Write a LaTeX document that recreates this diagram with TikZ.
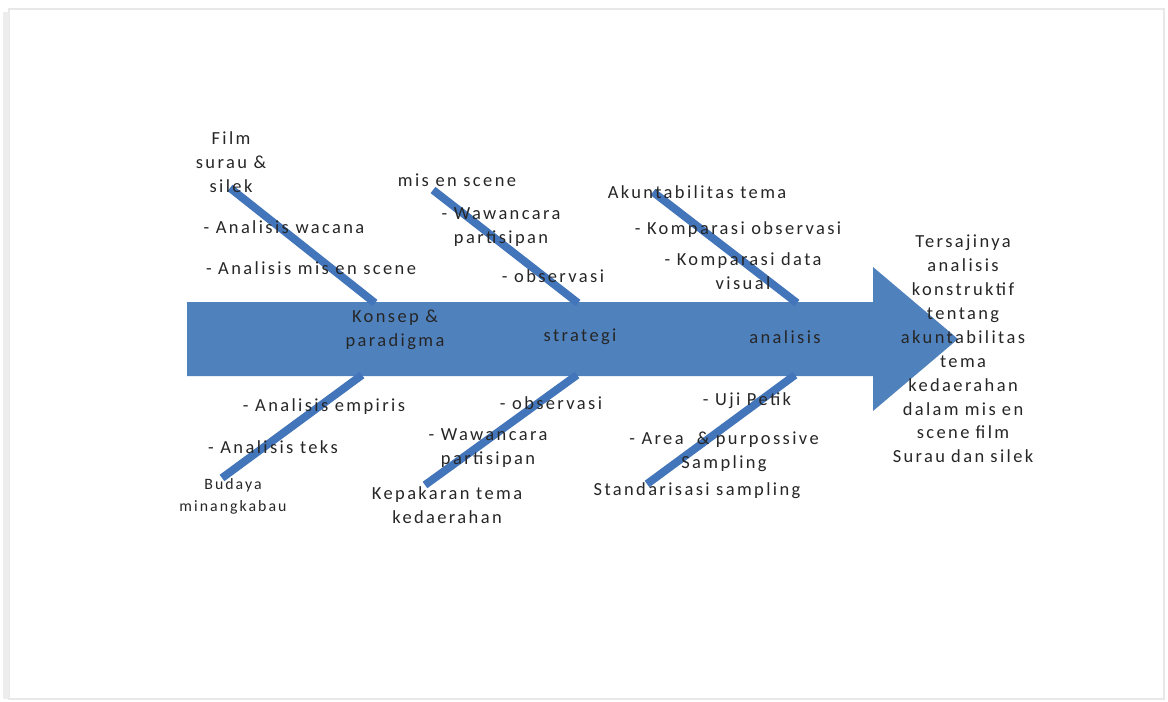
\documentclass[tikz,border=0pt]{standalone}
\usepackage{fontspec}
\newfontfamily\lsf[LetterSpace=13]{Carlito}
\definecolor{arrowblue}{HTML}{4F81BD}
\definecolor{boneblue}{HTML}{4275BA}
\begin{document}
\begin{tikzpicture}[x=0.02cm,y=-0.02cm,
  txt/.style={font={\lsf\fontsize{10.5}{13.6}\selectfont}, align=center, inner sep=0pt, text=black!85},
  smalltxt/.style={font={\lsf\fontsize{9}{12.4}\selectfont}, align=center, inner sep=0pt, text=black!85},
  bone/.style={draw=boneblue, line width=4.5pt},
  frameline/.style={draw=black!9, line width=1.5pt}]
\useasboundingbox (0,0) rectangle (1168,702);
\fill[white] (0,0) rectangle (1168,702);
% faint page frame
\draw[frameline] (9,9) rectangle (1164,699);
\draw[draw=black!7, line width=3pt] (6,12) -- (6,699);
% main arrow
\fill[arrowblue] (187,302) -- (873,302) -- (873,267) -- (958,339) -- (873,411) -- (873,376) -- (187,376) -- cycle;
% bone end coordinates
\coordinate (u1a) at (230,188); \coordinate (u1b) at (375,303);
\coordinate (u2a) at (433,190); \coordinate (u2b) at (578,303);
\coordinate (u3a) at (653,192); \coordinate (u3b) at (797,303);
\coordinate (l1a) at (362,375); \coordinate (l1b) at (222,478);
\coordinate (l2a) at (577,375); \coordinate (l2b) at (425,485);
\coordinate (l3a) at (795,375); \coordinate (l3b) at (647,484);
\draw[bone] (u1a) -- (u1b);
\draw[bone] (u2a) -- (u2b);
\draw[bone] (u3a) -- (u3b);
\draw[bone] (l1a) -- (l1b);
\draw[bone] (l2a) -- (l2b);
\draw[bone] (l3a) -- (l3b);
% upper texts
\node[txt] (film) at (231,162) {Film\\surau \&\\silek};
\node[txt] (aw) at (284,227) {- Analisis wacana};
\node[txt] (ams) at (311,268) {- Analisis mis en scene};
\node[txt] (mes) at (457,180) {mis en scene};
\node[txt] (wp1) at (501,227) {- Wawancara\\partisipan};
\node[txt] (obs1) at (553,276) {- observasi};
\node[txt] (akt) at (697,192) {Akuntabilitas tema};
\node[txt] (kob) at (738,230) {- Komparasi observasi};
\node[txt] (kdv) at (743,271) {- Komparasi data\\visual};
% spine labels
\node[txt] (kp) at (395,330) {Konsep \&\\paradigma};
\node[txt] (str) at (580,337) {strategi};
\node[txt] (ana) at (785,337) {analisis};
% result
\node[txt, text width=150] (res) at (963,349) {Tersajinya\\analisis\\konstruktif\\tentang\\akuntabilitas\\tema\\kedaerahan\\dalam mis en\\scene film\\Surau dan silek};
% lower texts
\node[txt] (ae) at (324,407) {- Analisis empiris};
\node[txt] (at) at (273,447) {- Analisis teks};
\node[smalltxt] (bud) at (233,496) {Budaya\\minangkabau};
\node[txt] (obs2) at (551,403) {- observasi};
\node[txt] (wp2) at (488,448) {- Wawancara\\partisipan};
\node[txt] (kep) at (447,505) {Kepakaran tema\\kedaerahan};
\node[txt] (uji) at (747,401) {- Uji Petik};
\node[txt] (area) at (724,452) {- Area~ \& purpossive\\Sampling};
\node[txt] (std) at (697,491) {Standarisasi sampling};
\end{tikzpicture}
\end{document}
